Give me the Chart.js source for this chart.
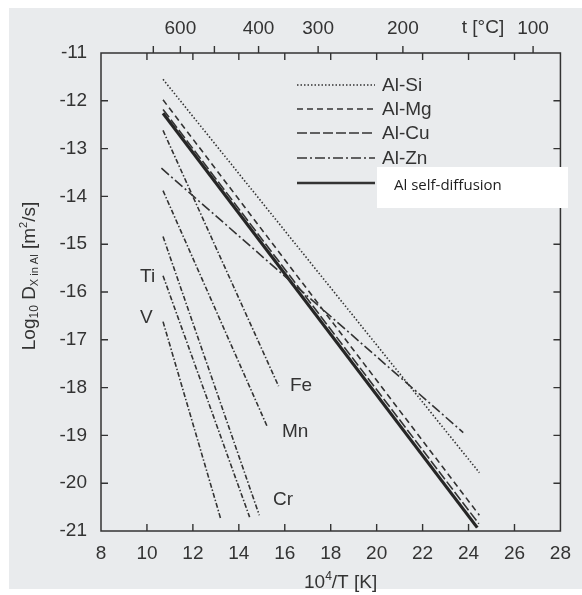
<!DOCTYPE html>
<html>
<head>
<meta charset="utf-8">
<script src="https://cdn.jsdelivr.net/npm/chart.js@4"></script>
<style>
    body { margin: 0; background: #ffffff; }
    canvas { display: block; }
</style>
</head>
<body>
<canvas id="diffusionChart" width="582" height="595"></canvas>
<script>
// Values: each line is a straight segment (start -> end)
const seriesNames = ['Al-Si', 'Al-Mg', 'Al-Cu', 'Al-Zn', 'Al self-diffusion', 'Fe', 'Mn', 'Cr', 'Ti', 'V'];
const xStart = [10.7, 10.7, 10.7, 10.63, 10.7, 10.7, 10.7, 10.7, 10.7, 10.7];
const yStart = [-11.55, -11.98, -12.18, -13.41, -12.26, -12.62, -13.88, -14.84, -15.66, -16.62];
const xEnd = [24.47, 24.47, 24.45, 23.77, 24.38, 15.73, 15.24, 14.89, 14.47, 13.22];
const yEnd = [-19.78, -20.67, -20.85, -18.94, -20.93, -17.97, -18.82, -20.67, -20.71, -20.76];

// axes
const xTicks = [8, 10, 12, 14, 16, 18, 20, 22, 24, 26, 28];
const yTicks = [-11, -12, -13, -14, -15, -16, -17, -18, -19, -20, -21];
const tempTicks = [700, 600, 500, 400, 300, 200, 100];
const tempLabels = ['', '600', '', '400', '300', '200', '100'];
const elementLabels = ['Fe', 'Mn', 'Cr', 'Ti', 'V'];

const ink = '#333333';
const mainFont = "'Liberation Sans', Arial, sans-serif";

const dashes = {
    'Al-Si': [1.5, 2],
    'Al-Mg': [6, 4],
    'Al-Cu': [10, 3],
    'Al-Zn': [10, 3, 2, 3],
    'Al self-diffusion': [],
};

function styleFor(name) {
    if (name === 'Al self-diffusion') return { width: 3.2, dash: [] };
    if (dashes[name]) return { width: 1.6, dash: dashes[name] };
    return { width: 1.6, dash: [5, 2, 1.5, 2] };
}

const datasets = seriesNames.map(function (name, i) {
    const st = styleFor(name);
    return {
        label: name,
        data: [{ x: xStart[i], y: yStart[i] }, { x: xEnd[i], y: yEnd[i] }],
        showLine: true,
        borderColor: name === 'Al self-diffusion' ? '#262626' : ink,
        borderWidth: st.width,
        borderDash: st.dash,
        pointRadius: 0,
        fill: false,
    };
});

// hand-drawn decorations: frame, inward ticks, legend, labels, titles
const decorations = {
    id: 'decorations',
    beforeDraw(chart) {
        const ctx = chart.ctx;
        ctx.save();
        ctx.fillStyle = '#ffffff';
        ctx.fillRect(0, 0, chart.width, chart.height);
        ctx.fillStyle = '#e9ebed';
        ctx.fillRect(9, 8, chart.width - 9, chart.height - 14);
        ctx.restore();
    },
    afterDraw(chart) {
        const ctx = chart.ctx;
        const a = chart.chartArea;
        const xs = chart.scales.x;
        const ys = chart.scales.y;
        const ts = chart.scales.x2;
        ctx.save();
        ctx.strokeStyle = ink;
        ctx.lineWidth = 1.5;
        ctx.strokeRect(a.left, a.top, a.right - a.left, a.bottom - a.top);

        ctx.lineWidth = 1.4;
        ctx.beginPath();
        xTicks.slice(1, -1).forEach(function (v) {
            const px = xs.getPixelForValue(v);
            ctx.moveTo(px, a.bottom); ctx.lineTo(px, a.bottom - 7);
            ctx.moveTo(px, a.top); ctx.lineTo(px, a.top + 7);
        });
        yTicks.slice(1, -1).forEach(function (v) {
            const py = ys.getPixelForValue(v);
            ctx.moveTo(a.left, py); ctx.lineTo(a.left + 7, py);
            ctx.moveTo(a.right, py); ctx.lineTo(a.right - 7, py);
        });
        tempTicks.forEach(function (t) {
            const px = ts.getPixelForValue(1e4 / (t + 273));
            ctx.moveTo(px, a.top); ctx.lineTo(px, a.top - 7);
        });
        ctx.stroke();

        ctx.fillStyle = ink;
        ctx.font = '19px ' + mainFont;
        ctx.textBaseline = 'middle';
        ctx.textAlign = 'center';
        ctx.fillText('t [°C]', 483, 28);

        // x title
        ctx.textAlign = 'left';
        let x0 = 304;
        ctx.fillText('10', x0, 583);
        x0 += ctx.measureText('10').width;
        ctx.font = '12px ' + mainFont;
        ctx.fillText('4', x0, 577);
        x0 += ctx.measureText('4').width;
        ctx.font = '19px ' + mainFont;
        ctx.fillText('/T [K]', x0, 583);

        // element labels
        const labelPos = { Fe: [290, 386], Mn: [282, 432], Cr: [273, 500], Ti: [140, 277], V: [140, 318] };
        elementLabels.forEach(function (el) {
            ctx.fillText(el, labelPos[el][0], labelPos[el][1]);
        });

        // legend
        const rows = [85, 109, 133, 158, 183];
        seriesNames.slice(0, 5).forEach(function (name, i) {
            const st = styleFor(name);
            ctx.beginPath();
            ctx.lineWidth = name === 'Al self-diffusion' ? 2.4 : st.width;
            ctx.setLineDash(st.dash);
            ctx.moveTo(297, rows[i]);
            ctx.lineTo(375, rows[i]);
            ctx.stroke();
            ctx.setLineDash([]);
            if (i < 4) ctx.fillText(name, 382, rows[i] + 1);
        });
        ctx.fillStyle = '#ffffff';
        ctx.fillRect(377, 167, 191, 41);
        ctx.fillStyle = '#1e1e1e';
        ctx.font = "15px 'Open Sans', 'Noto Sans', sans-serif";
        ctx.fillText(seriesNames[4], 394, 186);

        // y title, rotated, with sub/superscripts
        const parts = [
            { t: 'Log', s: 19, dy: 0 },
            { t: '10', s: 12, dy: 5 },
            { t: ' D', s: 19, dy: 0 },
            { t: 'X in Al', s: 11, dy: 5 },
            { t: ' [m', s: 19, dy: 0 },
            { t: '2', s: 11, dy: -6 },
            { t: '/s]', s: 19, dy: 0 },
        ];
        let total = 0;
        parts.forEach(function (p) {
            ctx.font = p.s + 'px ' + mainFont;
            p.w = ctx.measureText(p.t).width;
            total += p.w;
        });
        ctx.translate(30, 276);
        ctx.rotate(-Math.PI / 2);
        ctx.fillStyle = ink;
        let cx = -total / 2;
        parts.forEach(function (p) {
            ctx.font = p.s + 'px ' + mainFont;
            ctx.fillText(p.t, cx, p.dy);
            cx += p.w;
        });
        ctx.restore();
    }
};

function createDiffusionChart() {
    const canvas = document.getElementById('diffusionChart').getContext('2d');
    new Chart(canvas, {
        type: 'scatter',
        data: { datasets: datasets },
        options: {
            responsive: false,
            animation: false,
            layout: { padding: { left: 0, right: 4, top: 0, bottom: 0 } },
            plugins: {
                legend: { display: false },
                tooltip: { enabled: false },
            },
            scales: {
                x: {
                    type: 'linear',
                    position: 'bottom',
                    min: 8,
                    max: 28,
                    afterBuildTicks: function (scale) {
                        scale.ticks = xTicks.map(function (v) { return { value: v }; });
                    },
                    ticks: {
                        color: ink,
                        font: { family: mainFont, size: 19 },
                        padding: 11,
                        maxRotation: 0,
                        autoSkip: false,
                    },
                    grid: { display: false, drawTicks: false },
                    border: { display: false },
                    afterFit: function (scale) { scale.height = 64; },
                },
                x2: {
                    type: 'linear',
                    position: 'top',
                    min: 8,
                    max: 28,
                    afterBuildTicks: function (scale) {
                        scale.ticks = tempTicks.map(function (t) { return { value: 1e4 / (t + 273) }; });
                    },
                    ticks: {
                        color: ink,
                        font: { family: mainFont, size: 19 },
                        padding: 13,
                        maxRotation: 0,
                        autoSkip: false,
                        callback: function (value, index) { return tempLabels[index]; },
                    },
                    grid: { display: false, drawTicks: false },
                    border: { display: false },
                    afterFit: function (scale) { scale.height = 53; },
                },
                y: {
                    type: 'linear',
                    min: -21,
                    max: -11,
                    afterBuildTicks: function (scale) {
                        scale.ticks = yTicks.map(function (v) { return { value: v }; });
                    },
                    ticks: {
                        color: ink,
                        font: { family: mainFont, size: 19 },
                        padding: 14,
                        callback: function (value) { return String(value); },
                    },
                    grid: { display: false, drawTicks: false },
                    border: { display: false },
                    afterFit: function (scale) { scale.width = 101; },
                },
            },
        },
        plugins: [decorations],
    });
}

document.addEventListener('DOMContentLoaded', function () {
    createDiffusionChart();
});
</script>
</body>
</html>
